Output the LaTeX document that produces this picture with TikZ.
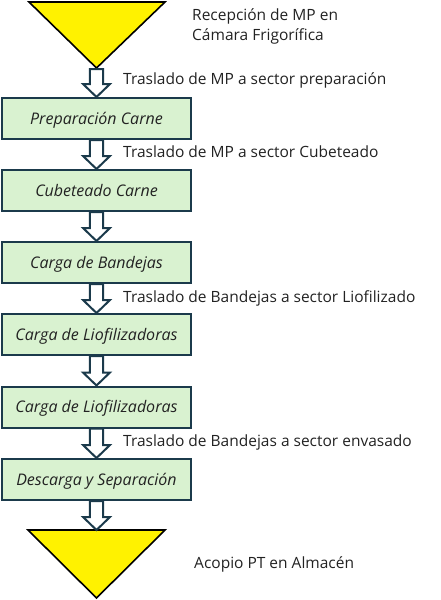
\documentclass[tikz,border=0pt]{standalone}
\usepackage{fontspec}
\setmainfont{Open Sans}
\usetikzlibrary{calc}
\definecolor{boxfill}{HTML}{D9F2D0}
\definecolor{boxline}{HTML}{1B3A4B}
\definecolor{txt}{HTML}{222222}
\tikzset{
  stepbox/.style={draw=boxline, line width=2pt, fill=boxfill, minimum width=189pt, minimum height=41pt, inner sep=0pt, text height=11pt, text depth=0pt, font=\fontsize{16}{18}\selectfont\itshape, text=txt},
  lbl/.style={anchor=base west, font=\fontsize{15.5}{20}\selectfont, text=txt, inner sep=0pt},
  tri/.style={draw=black, line width=1.6pt, fill=yellow, line join=miter},
  blockarrow/.style={draw=boxline, line width=2pt, fill=white, line join=miter}
}
\newcommand\flecha[2]{%
  \path let \p1=(#1), \p2=(#2) in
    coordinate (fA) at (\x1,\y1) coordinate (fB) at (\x1,\y2);
  \draw[blockarrow] let \p1=(fA), \p2=(fB) in
    (\x1-6.7pt,\y1) -- (\x1+6.7pt,\y1) -- (\x1+6.7pt,\y2+13pt) -- (\x1+13.5pt,\y2+13pt)
    -- (\x1,\y2) -- (\x1-13.5pt,\y2+13pt) -- (\x1-6.7pt,\y2+13pt) -- cycle;
}
\begin{document}
\begin{tikzpicture}[x=1pt,y=-1pt]
\useasboundingbox (0,0) rectangle (441,600);
% top triangle
\coordinate (t1a) at (29,2);
\coordinate (t1b) at (165,2);
\coordinate (t1c) at (96.5,68);
\draw[tri] (t1a) -- (t1b) -- (t1c) -- cycle;
\node[lbl] (lrec1) at (192,20.3) {Recepción de MP en};
\node[lbl] (lrec2) at (192,40.3) {Cámara Frigorífica};
% boxes
\node[stepbox] (b1) at (96.5,118.5) {Preparación Carne};
\node[stepbox] (b2) at (96.5,190.5) {Cubeteado Carne};
\node[stepbox] (b3) at (96.5,262.5) {Carga de Bandejas};
\node[stepbox] (b4) at (96.5,334.5) {Carga de Liofilizadoras};
\node[stepbox] (b5) at (96.5,407) {Carga de Liofilizadoras};
\node[stepbox] (b6) at (96.5,479.5) {Descarga y Separación};
% bottom triangle
\coordinate (t2a) at (28,530);
\coordinate (t2b) at (165,530);
\coordinate (t2c) at (96.5,598);
\draw[tri] (t2a) -- (t2b) -- (t2c) -- cycle;
\node[lbl] (lacop) at (194,568.6) {Acopio PT en Almacén};
% arrows
\coordinate (a0s) at (96.5,69);
\flecha{a0s}{b1.north}
\flecha{b1.south}{b2.north}
\flecha{b2.south}{b3.north}
\flecha{b3.south}{b4.north}
\flecha{b4.south}{b5.north}
\flecha{b5.south}{b6.north}
\coordinate (a6e) at (96.5,530);
\flecha{b6.south}{a6e}
% labels
\node[lbl] (l1) at (123,84.3) {Traslado de MP a sector preparación};
\node[lbl] (l2) at (123,157.6) {Traslado de MP a sector Cubeteado};
\node[lbl] (l3) at (123,302.6) {Traslado de Bandejas a sector Liofilizado};
\node[lbl] (l4) at (123,446) {Traslado de Bandejas a sector envasado};
\end{tikzpicture}
\end{document}
